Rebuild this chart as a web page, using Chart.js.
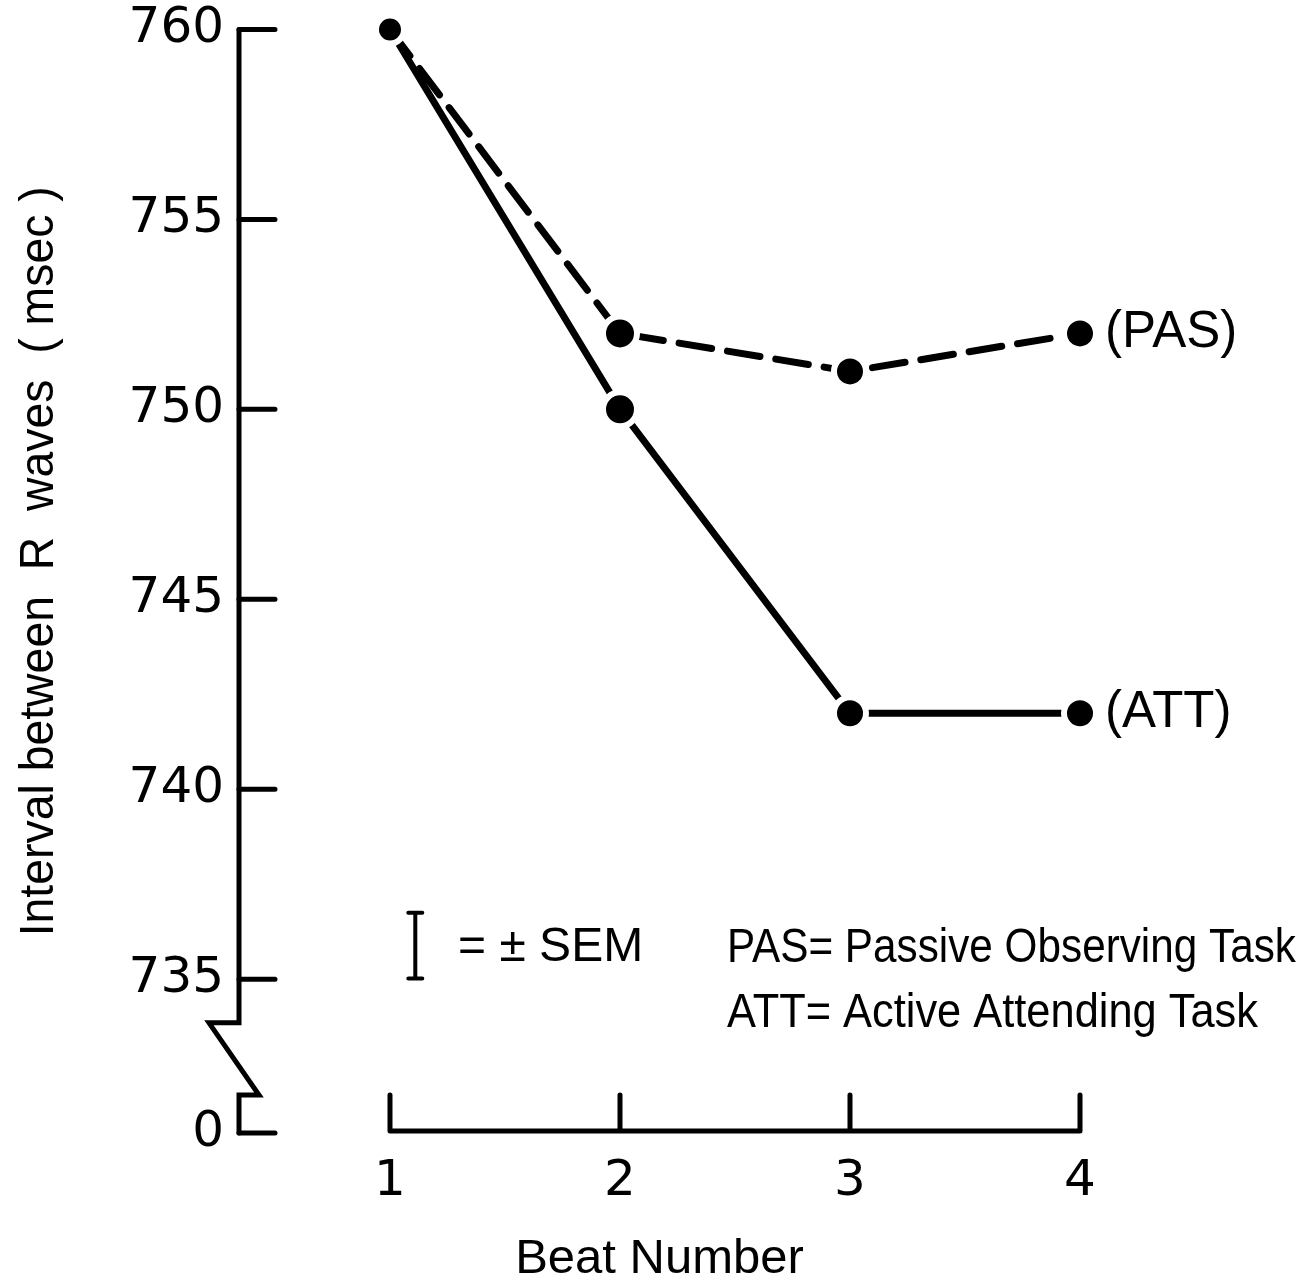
<!DOCTYPE html>
<html>
<head>
<meta charset="utf-8">
<title>Interval between R waves</title>
<script src="https://cdn.jsdelivr.net/npm/chart.js@4.4.1/dist/chart.umd.min.js"></script>
<style>
  html, body { margin: 0; padding: 0; background: #fff; }
  #wrap { width: 1304px; height: 1282px; }
</style>
</head>
<body>
<div id="wrap"><canvas id="myChart" width="1304" height="1282"></canvas></div>
<script>
// beat number after the signal
var beats = [1, 2, 3, 4];

// mean R-R interval, msec
var pasValues = [760, 752, 751, 752];   // passive observing task
var attValues = [760, 750, 742, 742];   // active attending task

// y axis: labelled ticks plus the "0" floor under the break
var yTickValues = [735, 740, 745, 750, 755, 760];
var Y_FLOOR = 730.95;       // where the "0" tick sits
var BREAK_TOP = 733.85;     // axis stops here ...
var BREAK_BOTTOM = 731.95;  // ... and picks up again here
var X_MIN = 0.3435;         // room between the y axis and beat 1

var INK = '#000';
var NUM_FONT = '"DejaVu Sans", sans-serif';
var TXT_FONT = '"Liberation Sans", Arial, sans-serif';

// axes with inward ticks and the broken y axis
var axisFrame = {
    id: 'axisFrame',
    beforeDatasetsDraw: function (chart) {
        var ctx = chart.ctx;
        var xs = chart.scales.x, ys = chart.scales.y;
        var x0 = chart.chartArea.left;
        var tick = 36;
        ctx.save();
        ctx.strokeStyle = INK;
        ctx.lineWidth = 5;
        ctx.lineCap = 'round';
        ctx.lineJoin = 'miter';

        // y axis, top part down to the break
        var yTop = ys.getPixelForValue(BREAK_TOP);
        var yBot = ys.getPixelForValue(BREAK_BOTTOM);
        var yFloor = ys.getPixelForValue(Y_FLOOR);
        ctx.beginPath();
        ctx.moveTo(x0, ys.getPixelForValue(760));
        ctx.lineTo(x0, yTop);
        ctx.lineTo(x0 - 30, yTop);
        ctx.lineTo(x0 + 20, yBot);
        ctx.lineTo(x0, yBot);
        ctx.lineTo(x0, yFloor);
        ctx.stroke();

        // y ticks point into the plot
        ctx.beginPath();
        yTickValues.concat([Y_FLOOR]).forEach(function (v) {
            var y = ys.getPixelForValue(v);
            ctx.moveTo(x0, y);
            ctx.lineTo(x0 + tick, y);
        });
        ctx.stroke();

        // x axis only spans the beats, ticks point up
        var yAxis = yFloor - 2;
        ctx.beginPath();
        ctx.moveTo(xs.getPixelForValue(beats[0]), yAxis);
        ctx.lineTo(xs.getPixelForValue(beats[beats.length - 1]), yAxis);
        beats.forEach(function (b) {
            var x = xs.getPixelForValue(b);
            ctx.moveTo(x, yAxis);
            ctx.lineTo(x, yAxis - tick);
        });
        ctx.stroke();
        ctx.restore();
    }
};

// squeeze a line of text into a given width (the key uses a condensed face)
function fillCondensed(ctx, text, x, y, width) {
    var w = ctx.measureText(text).width;
    ctx.save();
    ctx.translate(x, y);
    ctx.scale(width / w, 1);
    ctx.fillText(text, 0, 0);
    ctx.restore();
}

// axis title, series names at the line ends and the key underneath
var notes = {
    id: 'notes',
    afterDraw: function (chart) {
        var ctx = chart.ctx;
        var xs = chart.scales.x, ys = chart.scales.y;
        ctx.save();
        ctx.fillStyle = INK;
        ctx.strokeStyle = INK;
        ctx.textBaseline = 'middle';
        ctx.textAlign = 'left';

        // y axis title
        ctx.save();
        ctx.translate(40, ys.getPixelForValue(746.0));
        ctx.rotate(-Math.PI / 2);
        ctx.font = '48px ' + TXT_FONT;
        fillCondensed(ctx, 'Interval between  R  waves  ( msec )', -375, 0, 750);
        ctx.restore();

        var xEnd = xs.getPixelForValue(beats[beats.length - 1]) + 25;
        ctx.font = '51px ' + TXT_FONT;
        ctx.fillText('(PAS)', xEnd, ys.getPixelForValue(pasValues[pasValues.length - 1]));
        ctx.fillText('(ATT)', xEnd, ys.getPixelForValue(attValues[attValues.length - 1]));

        // ± SEM symbol
        var bx = xs.getPixelForValue(1.11);
        var b1 = ys.getPixelForValue(736.75), b2 = ys.getPixelForValue(735.02);
        ctx.lineWidth = 4;
        ctx.lineCap = 'round';
        ctx.beginPath();
        ctx.moveTo(bx, b1); ctx.lineTo(bx, b2);
        ctx.moveTo(bx - 7, b1); ctx.lineTo(bx + 7, b1);
        ctx.moveTo(bx - 7, b2); ctx.lineTo(bx + 7, b2);
        ctx.stroke();

        var keyY = ys.getPixelForValue(735.82);
        ctx.font = '48px ' + TXT_FONT;
        ctx.fillText('= \u00b1 SEM', xs.getPixelForValue(1.296), keyY);

        ctx.font = '49px ' + TXT_FONT;
        var kx = xs.getPixelForValue(2.465);
        fillCondensed(ctx, 'PAS= Passive Observing Task', kx, keyY, 569);
        fillCondensed(ctx, 'ATT= Active Attending Task', kx, ys.getPixelForValue(734.1), 531);
        ctx.restore();
    }
};

function toPoints(values) {
    return values.map(function (v, i) { return { x: beats[i], y: v }; });
}

var ctx = document.getElementById('myChart').getContext('2d');
var myChart = new Chart(ctx, {
    type: 'line',
    data: {
        datasets: [
            {
                label: 'PAS',
                data: toPoints(pasValues),
                borderColor: INK,
                borderWidth: 7,
                borderDash: [33, 16],
                borderCapStyle: 'round',
                pointBackgroundColor: INK,
                pointBorderColor: '#fff',
                pointBorderWidth: 6,
                pointRadius: [14, 17, 16, 16],
                clip: false,
                tension: 0
            },
            {
                label: 'ATT',
                data: toPoints(attValues),
                borderColor: INK,
                borderWidth: 7,
                borderCapStyle: 'round',
                pointBackgroundColor: INK,
                pointBorderColor: '#fff',
                pointBorderWidth: 6,
                pointRadius: [14, 17, 16, 16],
                clip: false,
                tension: 0
            }
        ]
    },
    options: {
        responsive: false,
        animation: false,
        devicePixelRatio: 1,
        layout: { padding: { top: 0, right: 224, left: 0, bottom: 0 } },
        plugins: { legend: { display: false }, tooltip: { enabled: false } },
        scales: {
            x: {
                type: 'linear',
                min: X_MIN,
                max: 4,
                grid: { display: false },
                border: { display: false },
                afterBuildTicks: function (s) { s.ticks = beats.map(function (b) { return { value: b }; }); },
                afterFit: function (s) { s.height = 149; },
                ticks: { color: INK, font: { family: NUM_FONT, size: 50 }, padding: 11, autoSkip: false, maxRotation: 0 },
                title: {
                    display: true,
                    text: 'Beat Number',
                    color: INK,
                    font: { family: TXT_FONT, size: 49, lineHeight: 0.92 },
                    padding: 0
                }
            },
            y: {
                type: 'linear',
                min: Y_FLOOR,
                max: 760,
                grid: { display: false },
                border: { display: false },
                afterBuildTicks: function (s) {
                    s.ticks = [Y_FLOOR].concat(yTickValues).map(function (v) { return { value: v }; });
                },
                afterFit: function (s) { s.width = 239; },
                ticks: {
                    color: INK,
                    font: { family: NUM_FONT, size: 50, lineHeight: 0.9 },
                    padding: 7,
                    autoSkip: false,
                    callback: function (v) { return v === Y_FLOOR ? '0' : v; }
                }
            }
        }
    },
    plugins: [axisFrame, notes]
});
</script>
</body>
</html>
